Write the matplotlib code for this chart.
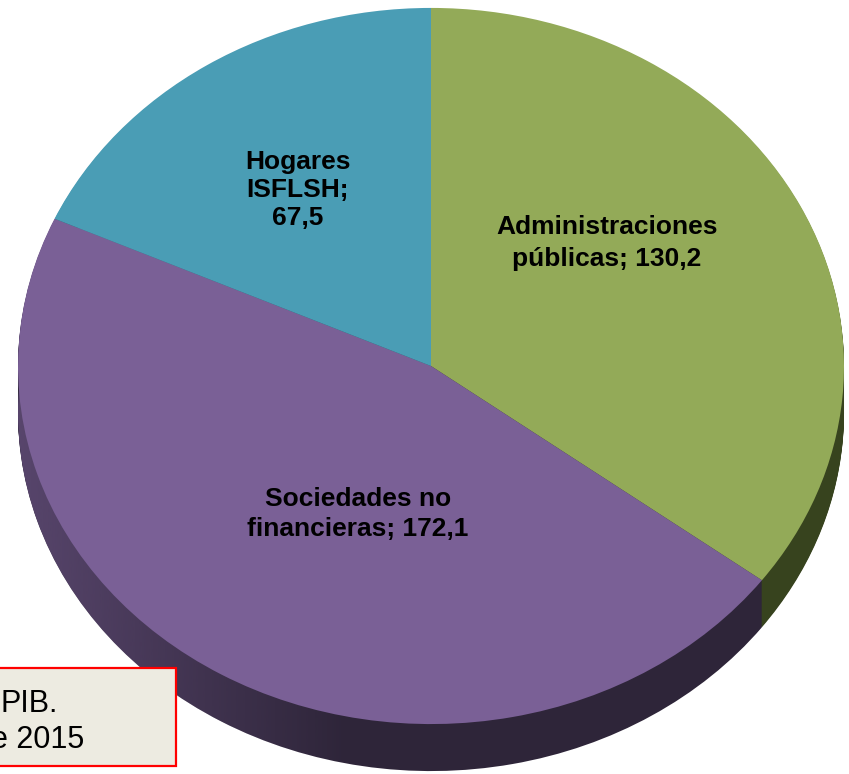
import numpy as np
import matplotlib
matplotlib.use("Agg")
import matplotlib.pyplot as plt
from matplotlib.patches import Rectangle, Ellipse
from matplotlib.colors import to_rgb

# ---- data ----
categories = ["Administraciones\npúblicas", "Sociedades no\nfinancieras", "Hogares\nISFLSH"]
separators = ["; ", "; ", ";\n"]
values = [130.2, 172.1, 67.5]
top_colors = ["#93AA58", "#7A6096", "#4A9DB5"]
side_colors = ["#37431E", "#2E2539", "#2A5A68"]
note_lines = ["PIB.", "e 2015"]

W, H = 849, 774
fig = plt.figure(figsize=(W / 100, H / 100), dpi=100)
ax = fig.add_axes([0, 0, 1, 1])

S = 0.867          # vertical squash of the tilted pie
R = 413            # radius (px, horizontal)
cx_px, cy_px = 431, 366
depth_px = 47
cx = cx_px
cy = (H - cy_px) / S

# side (depth) layers
for d in np.arange(depth_px, 0, -1):
    w, _ = ax.pie(values, colors=side_colors, startangle=90, counterclock=False,
                  radius=R, center=(cx, cy - d / S),
                  wedgeprops=dict(linewidth=0))
    for p in w:
        p.set_zorder(1)

# horizontal light gradient on the left part of the side
xs = np.linspace(0, W, 400)
alpha = np.clip(0.55 * (1 - (xs - 18) / 330), 0, 1)
grad = np.zeros((1, len(xs), 4))
grad[..., :3] = to_rgb("#7A6096")
grad[0, :, 3] = alpha
im = ax.imshow(grad, extent=(0, W, 0, H / S), aspect="auto",
               interpolation="bilinear", zorder=2)
clip = Ellipse((cx, cy - depth_px / S), 2 * R, 2 * R, transform=ax.transData)
im.set_clip_path(clip)

# top face
w, _ = ax.pie(values, colors=top_colors, startangle=90, counterclock=False,
              radius=R, center=(cx, cy), wedgeprops=dict(linewidth=0))
for p in w:
    p.set_zorder(3)

ax.set_xlim(0, W)
ax.set_ylim(0, H / S)
ax.set_aspect("auto")
ax.axis("off")

# labels
label_pos = [(607, 243), (358, 514), (298, 190)]
label_ls = [1.38, 1.32, 1.2]
for cat, sep, v, (px, py), ls in zip(categories, separators, values, label_pos, label_ls):
    txt = f"{cat}{sep}{v:.1f}".replace(".", ",")
    fig.text(px / W, 1 - py / H, txt, ha="center", va="center",
             multialignment="center", fontsize=19, fontweight="bold",
             linespacing=ls, family="Liberation Sans", color="black", zorder=10)

# note box (partially outside the figure)
fig.add_artist(Rectangle((-10 / W, 1 - 766 / H), 186 / W, 98 / H,
                         transform=fig.transFigure, facecolor="#EDEBE1",
                         edgecolor="#FF0000", linewidth=1.6, zorder=20))
fig.text(58 / W, 1 - 712 / H, note_lines[0], ha="right", va="baseline",
         fontsize=22, family="Liberation Sans", color="black", zorder=21)
fig.text(84 / W, 1 - 748 / H, note_lines[1], ha="right", va="baseline",
         fontsize=22, family="Liberation Sans", color="black", zorder=21)

fig.savefig("out.png", dpi=100)
